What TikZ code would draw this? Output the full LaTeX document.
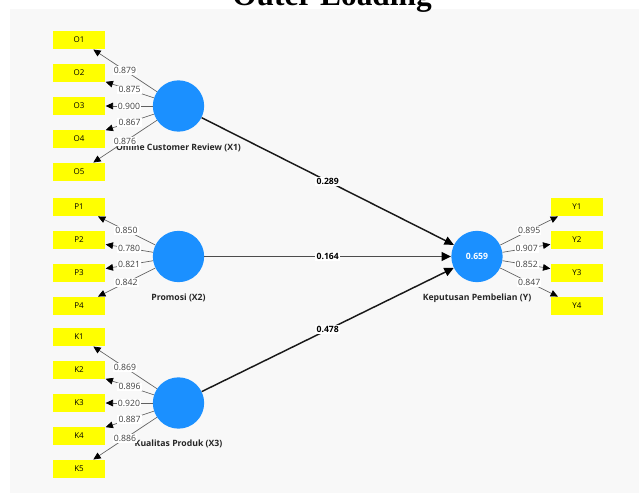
\documentclass[tikz,border=0pt]{standalone}
\usepackage{fontspec}
\setmainfont{Liberation Serif}
\setsansfont{Open Sans}
\usetikzlibrary{arrows.meta}
\definecolor{bgc}{HTML}{F8F8F8}
\definecolor{lvc}{RGB}{27,144,255}
\definecolor{ind}{HTML}{FFFF00}
\definecolor{ldc}{HTML}{606060}
\tikzset{
  lv/.style={circle, fill=lvc, minimum size=38.5pt, inner sep=0pt, text=white, font=\sffamily\bfseries\fontsize{6.5}{7}\selectfont},
  indbox/.style={rectangle, fill=ind, minimum width=39pt, minimum height=13.5pt, inner sep=0pt, font=\sffamily\fontsize{6}{6}\selectfont},
  lvname/.style={font=\sffamily\bfseries\fontsize{6.5}{7}\selectfont, text=black!85, inner sep=0pt},
  load/.style={draw=ldc, line width=0.5pt, -{Triangle[length=5.5pt,width=5pt,color=black,fill=black]}, shorten >=0.3pt},
  lbl/.style={fill=white, inner sep=0.8pt, font=\sffamily\fontsize{6.5}{7}\selectfont, text=black!75, pos=0.5},
  pathc/.style={draw=black!90, line width=1.1pt, -{Triangle[length=7pt,width=6.5pt,color=black,fill=black]}},
  plbl/.style={fill=white, inner sep=1pt, font=\sffamily\bfseries\fontsize{6.5}{7}\selectfont, text=black, pos=0.5},
}
\begin{document}
\begin{tikzpicture}[x=0.75pt,y=-0.75pt]
\useasboundingbox (0,0) rectangle (639,493);
\fill[white] (0,0) rectangle (639,493);
\fill[bgc] (10,9) rectangle (639,493);
\node[anchor=base, font=\bfseries\fontsize{23.5}{26}\selectfont, inner sep=0pt] (title) at (332,5) {Outer Loading};
% latent variables
\node[lv] (X1) at (178.5,106) {};
\node[lv] (X2) at (178.5,256.5) {};
\node[lv] (X3) at (178.5,403) {};
\node[lv] (Y) at (477,256.5) {0.659};
\node[lvname] (nX1) at (178.5,148) {Online Customer Review (X1)};
\node[lvname] (nX2) at (178.5,298) {Promosi (X2)};
\node[lvname] (nX3) at (178.5,444) {Kualitas Produk (X3)};
\node[lvname] (nY) at (477,298) {Keputusan Pembelian (Y)};
% indicators
\foreach \n/\y in {O1/40,O2/73,O3/106,O4/139,O5/172}{\node[indbox] (\n) at (79,\y) {\n};}
\foreach \n/\y in {P1/207,P2/240,P3/273,P4/306}{\node[indbox] (\n) at (79,\y) {\n};}
\foreach \n/\y in {K1/337,K2/370,K3/403,K4/436,K5/469}{\node[indbox] (\n) at (79,\y) {\n};}
\foreach \n/\y in {Y1/207,Y2/240,Y3/273,Y4/306}{\node[indbox] (\n) at (577,\y) {\n};}
% loadings
\foreach \n/\v in {O1/0.879,O2/0.875,O3/0.900,O4/0.867,O5/0.876}{\draw[load] (X1) -- node[lbl]{\v} (\n);}
\foreach \n/\v in {P1/0.850,P2/0.780,P3/0.821,P4/0.842}{\draw[load] (X2) -- node[lbl]{\v} (\n);}
\foreach \n/\v in {K1/0.869,K2/0.896,K3/0.920,K4/0.887,K5/0.886}{\draw[load] (X3) -- node[lbl]{\v} (\n);}
\foreach \n/\v in {Y1/0.895,Y2/0.907,Y3/0.852,Y4/0.847}{\draw[load] (Y) -- node[lbl]{\v} (\n);}
% paths
\draw[pathc] (X1) -- node[plbl]{0.289} (Y);
\draw[pathc, draw=black!70, line width=1.4pt] (X2) -- node[plbl]{0.164} (Y);
\draw[pathc] (X3) -- node[plbl]{0.478} (Y);
\end{tikzpicture}
\end{document}
